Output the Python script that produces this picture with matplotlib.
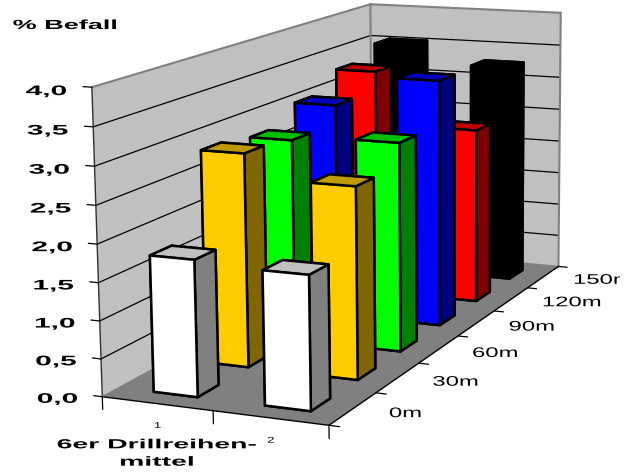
import numpy as np
import matplotlib
matplotlib.use('Agg')
import matplotlib.pyplot as plt
from matplotlib.patheffects import AbstractPathEffect
from matplotlib.transforms import Affine2D, Bbox
from mpl_toolkits.mplot3d import proj3d
from mpl_toolkits.mplot3d.art3d import Poly3DCollection

plt.rcParams['font.family'] = ['Liberation Sans', 'DejaVu Sans']

# Befall je Drillreihe und Entfernung
categories = ['1', '2']
distances = ['0m', '30m', '60m', '90m', '120m', '150m']
values_1 = [1.8, 2.9, 2.82, 3.07, 3.34, 3.53]
values_2 = [1.75, 2.58, 2.89, 3.51, 2.56, 3.27]
z_ticks = [0.0, 0.5, 1.0, 1.5, 2.0, 2.5, 3.0, 3.5, 4.0]
z_labels = ['0,0', '0,5', '1,0', '1,5', '2,0', '2,5', '3,0', '3,5', '4,0']

# Farben je Reihe: Front, Seite, Deckel
front = ['#FFFFFF', '#FFCC00', '#00FF00', '#0000FF', '#FF0000', '#000000']
side = ['#808080', '#806600', '#008000', '#000080', '#800000', '#000000']
top = ['#C0C0C0', '#BF9900', '#00BF00', '#0000BF', '#BF0000', '#000000']

W, H = 632, 474
cx, cy, size = 346.7352, 192.8985, 417.2384


class Stretch(AbstractPathEffect):
    # zieht die Schrift in x-Richtung breit, um den Ankerpunkt herum
    def __init__(self, sx, anchor='left'):
        super().__init__()
        self.sx = sx
        self.anchor = anchor

    def draw_path(self, renderer, gc, tpath, affine, rgbFace=None):
        ext = tpath.get_extents()
        x0 = {'left': ext.x0, 'right': ext.x1, 'center': (ext.x0 + ext.x1) / 2}[self.anchor]
        t = Affine2D().translate(-x0, 0).scale(self.sx, 1).translate(x0, 0)
        renderer.draw_path(gc, tpath, t + affine, rgbFace)


fig = plt.figure(figsize=(W / 100, H / 100), dpi=100)
ax = fig.add_axes([(cx - size / 2) / W, 1 - (cy + size / 2) / H, size / W, size / H], projection='3d')
ax.set_xlim(0, 2, view_margin=0)
ax.set_ylim(0, 6, view_margin=0)
ax.set_zlim(0, 4, view_margin=0)
ax.set_proj_type('persp', focal_length=1)
ax.view_init(11.7501, -66.1771, 0.5681)
ax.set_box_aspect((0.7939, 2.1874, 1), zoom=1.6782)
ax.set_xticks([])
ax.set_yticks([])
ax.set_zticks([])
ax.set_axis_off()
ax.computed_zorder = False
ax.patch.set_alpha(0)


def line(xs, ys, zs, color='k', lw=0.9, zorder=2):
    ax.plot(xs, ys, zs, color=color, lw=lw, zorder=zorder, clip_on=False, solid_capstyle='round')


def plane(verts, color, zorder=1):
    p = Poly3DCollection([verts], facecolors=color, edgecolors='none', zorder=zorder)
    p.set_clip_on(False)
    ax.add_collection3d(p)


def label(x, y, z, s, **kw):
    # Text an einem 3D-Punkt, projiziert auf die Bildebene
    xs, ys, _ = proj3d.proj_transform(x, y, z, ax.get_proj())
    return ax.text2D(xs, ys, s, transform=ax.transData, zorder=20, **kw)


# Waende und Boden
plane([(0, 0, 0), (0, 6, 0), (0, 6, 4), (0, 0, 4)], '#C0C0C0')
plane([(0, 6, 0), (2, 6, 0), (2, 6, 4), (0, 6, 4)], '#C0C0C0')
plane([(0, 0, 0), (2, 0, 0), (2, 6, 0), (0, 6, 0)], '#808080', zorder=1.5)

# Gitterlinien auf beiden Waenden
for z in z_ticks[1:-1]:
    line([0, 0], [0, 6], [z, z])
    line([0, 2], [6, 6], [z, z])

# Rahmen
line([0, 0], [0, 6], [4, 4], color='#808080', lw=1.5)
line([0, 2], [6, 6], [4, 4], color='#808080', lw=1.5)
line([0, 0], [6, 6], [0, 4], color='#808080', lw=1.5)
line([2, 2], [6, 6], [0, 4], color='#808080', lw=1.5)
line([0, 2], [6, 6], [0, 0], color='#808080', lw=1.0, zorder=1.6)
line([0, 0], [6, 0], [0, 0], color='#808080', lw=1.0, zorder=1.6)

# Achsen und Striche
line([0, 0], [0, 0], [0, 4], color='#303030', lw=1.0)
line([0, 2], [0, 0], [0, 0], lw=1.0)
line([2, 2], [0, 6], [0, 0], lw=1.0)
for z, lab in zip(z_ticks, z_labels):
    line([0, -0.08], [0, 0], [z, z], lw=0.9)
    label(-0.23, 0, z - 0.07, lab, ha='right', va='center', fontsize=10, fontweight='bold',
          path_effects=[Stretch(2.15, 'right')])
for x in [0, 1, 2]:
    line([x, x], [0, 0], [0, -0.17], lw=0.9)
for y in range(7):
    line([2, 2.09], [y, y], [0, 0], lw=0.9)

# Saeulen von hinten nach vorn
for i in reversed(range(6)):
    for j, vals in enumerate([values_1, values_2]):
        colors = [side[i], top[i], front[i], side[i], side[i], side[i]]
        b = ax.bar3d(j + 0.32, i + 0.3, 0, 0.4, 0.4, vals[i], color=colors, shade=False,
                     edgecolor='k', linewidth=1.8)
        b.set_clip_on(False)
        b.set_zorder(3 + (5 - i) * 2 + j)

# Beschriftung der Tiefenachse
for i, lab in enumerate(distances):
    t = label(2.31, i + 0.5, 0, lab, ha='left', va='center', fontsize=10,
              path_effects=[Stretch(1.72, 'left')])
    if lab == '150m':
        t.set_clip_on(True)
        t.set_clip_box(Bbox([[0, 0], [620, H]]))

# Kategorien an der Vorderkante
for j, lab in enumerate(categories):
    label(j + 0.5, 0, -0.3, lab, ha='center', va='center', fontsize=6,
          path_effects=[Stretch(1.6, 'center')])

fig.text(13 / W, 1 - 26 / H, '% Befall', ha='left', va='center', fontsize=9.5, fontweight='bold',
         path_effects=[Stretch(2.05, 'left')])
fig.text(157 / W, 1 - 454 / H, '6er Drillreihen-\nmittel', ha='center', va='center', fontsize=9.5,
         fontweight='bold', linespacing=1.6, path_effects=[Stretch(2.15, 'center')])

fig.savefig('out.png', dpi=100)
